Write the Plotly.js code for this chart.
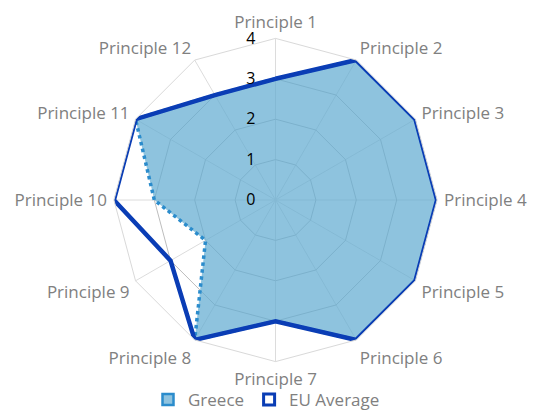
<!DOCTYPE html>
<html>
<head>
<meta charset="utf-8">
<script src="https://cdn.plot.ly/plotly-3.0.1.min.js"></script>
<style>html,body{margin:0;padding:0;background:#fff;}#chart{width:533px;height:418px;}</style>
</head>
<body>
<div id="chart"></div>
<script>
var categories = ["Principle 1","Principle 2","Principle 3","Principle 4","Principle 5","Principle 6",
                  "Principle 7","Principle 8","Principle 9","Principle 10","Principle 11","Principle 12"];
var greece = [3, 4, 4, 4, 4, 4, 3, 4, 2, 3, 4, 3];
var euAverage = [3, 4, 4, 4, 4, 4, 3, 4, 3, 4, 4, 3];
var radialTicks = [0, 1, 2, 3, 4];

function closeLoop(a){ return a.concat([a[0]]); }

var traces = [
  {
    type: 'scatterpolar', name: 'Greece', showlegend: false,
    r: closeLoop(greece), theta: closeLoop(categories),
    mode: 'lines', fill: 'toself', fillcolor: 'rgba(99,172,209,0.72)',
    line: {color: '#2b8ccc', width: 3.5, dash: 'dot'}
  },
  {
    type: 'scatterpolar', name: 'EU Average', showlegend: false,
    r: closeLoop(euAverage), theta: closeLoop(categories),
    mode: 'lines',
    line: {color: '#0a3db5', width: 4.5}
  },
  {
    type: 'scatterpolar', name: 'Greece', r: [null], theta: [categories[0]],
    mode: 'markers', marker: {symbol: 'square', size: 11, color: '#8fc3df', line: {color: '#2b8ccc', width: 2.5}}
  },
  {
    type: 'scatterpolar', name: 'EU Average', r: [null], theta: [categories[0]],
    mode: 'markers', marker: {symbol: 'square', size: 11, color: '#ffffff', line: {color: '#0a3db5', width: 3}}
  }
];

var cx = 275.5, cy = 200, R = 161.6, W = 533, H = 418;

var layout = {
  width: W, height: H,
  margin: {l: 0, r: 0, t: 0, b: 0},
  paper_bgcolor: '#ffffff',
  font: {family: 'Open Sans, sans-serif', size: 17, color: '#808080'},
  showlegend: true,
  legend: {
    orientation: 'h', x: 0.5, xanchor: 'center', y: 0, yanchor: 'bottom',
    bgcolor: 'rgba(0,0,0,0)',
    font: {size: 17, color: '#808080'}, itemwidth: 30, tracegroupgap: 0
  },
  polar: {
    domain: {x: [(cx - R) / W, (cx + R) / W], y: [(H - cy - R) / H, (H - cy + R) / H]},
    bgcolor: '#ffffff',
    gridshape: 'linear',
    radialaxis: {
      range: [0, 4], tickvals: radialTicks, ticktext: radialTicks.map(String),
      angle: 90, tickangle: 90, side: 'counterclockwise',
      showline: false, ticks: 'outside', ticklen: 14, tickcolor: 'rgba(0,0,0,0)',
      gridcolor: '#bdbdbd', gridwidth: 1,
      tickfont: {size: 16, color: '#000000'}
    },
    angularaxis: {
      direction: 'clockwise', rotation: 90,
      showline: true, linecolor: '#d9d9d9', linewidth: 1,
      gridcolor: '#dcdcdc', ticks: 'outside', ticklen: 3, tickcolor: 'rgba(0,0,0,0)',
      tickfont: {size: 17, color: '#808080'}
    }
  }
};

Plotly.newPlot('chart', traces, layout, {staticPlot: true, displayModeBar: false});
</script>
</body>
</html>
